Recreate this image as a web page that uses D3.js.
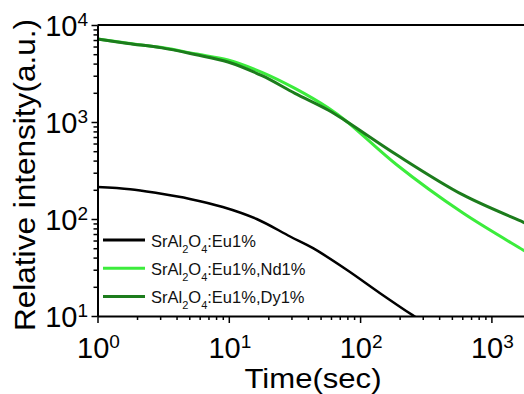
<!DOCTYPE html>
<html>
<head>
<meta charset="utf-8">
<script src="https://cdn.jsdelivr.net/npm/d3@7"></script>
<style>
  body { margin: 0; background: #fff; }
  svg { display: block; font-family: "Liberation Sans", Arial, sans-serif; }
</style>
</head>
<body>
<svg id="chart" width="524" height="394"></svg>
<script>
// Decay curves (time in sec, intensity in a.u.)
const euTime  = [1, 1.77, 2.84, 5.05, 9.0, 16.3, 29.3, 43.8, 79, 141, 251, 290];
const euValue = [214, 203, 185, 161, 133, 100, 66, 50, 30, 17.3, 10.2, 9.0];

const greenTime = [1, 1.71, 3.10, 5.53, 9.86, 17.9, 31.9, 57, 80, 191, 608, 1742, 2000];
const ndValue   = [7180, 6480, 5850, 5050, 4360, 3250, 2220, 1400, 1000, 360, 115, 47.9, 42.7];
const dyValue   = [7180, 6460, 5810, 4960, 4160, 3000, 1976, 1330, 1000, 457, 177, 93, 85.5];

const seriesNames  = ["Eu1%", "Eu1%,Nd1%", "Eu1%,Dy1%"];
const seriesColors = ["#000000", "#3cec3c", "#1c7c1c"];

const xTicks = [1, 10, 100, 1000];
const yTicks = [10, 100, 1000, 10000];

const series = [
  { name: seriesNames[0], color: seriesColors[0], width: 2.5, pts: euTime.map((t, i) => [t, euValue[i]]) },
  { name: seriesNames[1], color: seriesColors[1], width: 3, pts: greenTime.map((t, i) => [t, ndValue[i]]) },
  { name: seriesNames[2], color: seriesColors[2], width: 3, pts: greenTime.map((t, i) => [t, dyValue[i]]) }
];

const svg = d3.select('#chart');
const plotL = 97.5, plotR = 524, plotT = 25, plotB = 316;

const x = d3.scaleLog()
            .domain([1, Math.pow(10, (plotR - plotL) / 131.3)])
            .range([plotL, plotR]);
const y = d3.scaleLog()
            .domain([10, 10000])
            .range([plotB, plotT]);

// tick values 1..9 for each decade
function minors(lo, hi) {
  let out = [];
  for (let d = lo; d < hi; d *= 10)
    for (let k = 1; k < 10; k++) out.push(d * k);
  return out;
}

svg.append('defs').append('clipPath').attr('id', 'plotClip')
   .append('rect')
   .attr('x', plotL).attr('y', plotT)
   .attr('width', plotR - plotL).attr('height', plotB - plotT);

// curves
const line = d3.line()
               .x(d => x(d[0]))
               .y(d => y(d[1]))
               .curve(d3.curveCatmullRom.alpha(0.5));

const plot = svg.append('g').attr('clip-path', 'url(#plotClip)');
series.forEach(s => {
  plot.append('path')
      .datum(s.pts)
      .attr('d', line)
      .attr('fill', 'none')
      .attr('stroke', s.color)
      .attr('stroke-width', s.width)
      .attr('stroke-linejoin', 'round');
});

// axes
const xVals = minors(1, 10000).filter(v => v <= x.domain()[1]);
const xAxis = svg.append('g')
   .attr('transform', `translate(0,${plotB})`)
   .call(d3.axisBottom(x).tickValues(xVals).tickFormat('').tickSizeOuter(0));
xAxis.selectAll('.tick line')
     .attr('y2', d => xTicks.includes(d) ? 7 : 4)
     .attr('stroke-width', 1.5);

const yVals = minors(10, 10000).concat([10000]);
const yAxis = svg.append('g')
   .attr('transform', `translate(${plotL},0)`)
   .call(d3.axisLeft(y).tickValues(yVals).tickFormat('').tickSizeOuter(0));
yAxis.selectAll('.tick line')
     .attr('x2', d => yTicks.includes(d) ? -6 : -4)
     .attr('stroke-width', 1.5);

svg.selectAll('.domain').attr('stroke-width', 2);

svg.append('line')
   .attr('x1', plotL).attr('x2', plotR)
   .attr('y1', plotT).attr('y2', plotT)
   .attr('stroke', '#000').attr('stroke-width', 2);

// tick labels with superscript exponents
xTicks.forEach(v => {
  let t = svg.append('text')
             .attr('x', x(v) + 1)
             .attr('y', 358)
             .attr('text-anchor', 'middle')
             .attr('font-size', 29);
  t.append('tspan').text('10');
  t.append('tspan').attr('font-size', 19).attr('dy', -10).text(Math.round(Math.log10(v)));
});

yTicks.forEach(v => {
  let t = svg.append('text')
             .attr('x', 88)
             .attr('y', y(v) + 11)
             .attr('text-anchor', 'end')
             .attr('font-size', 29);
  t.append('tspan').text('10');
  t.append('tspan').attr('font-size', 19).attr('dy', -10).text(Math.round(Math.log10(v)));
});

// axis titles
svg.append('text')
   .attr('transform', 'translate(35,175) rotate(-90)')
   .attr('text-anchor', 'middle')
   .attr('font-size', 29)
   .attr('textLength', 312)
   .attr('lengthAdjust', 'spacingAndGlyphs')
   .text('Relative intensity(a.u.)');

svg.append('text')
   .attr('x', 313)
   .attr('y', 388)
   .attr('text-anchor', 'middle')
   .attr('font-size', 28)
   .attr('textLength', 137)
   .attr('lengthAdjust', 'spacingAndGlyphs')
   .text('Time(sec)');

// legend
const legend = svg.append('g');
series.forEach((s, i) => {
  let base = 247 + i * 28.2;
  legend.append('line')
        .attr('x1', 103).attr('x2', 145)
        .attr('y1', base - 7).attr('y2', base - 7)
        .attr('stroke', s.color)
        .attr('stroke-width', 3);
  let t = legend.append('text')
                .attr('x', 151)
                .attr('y', base)
                .attr('font-size', 16.5)
                .attr('fill', '#111');
  t.append('tspan').text('SrAl');
  t.append('tspan').attr('font-size', 11).attr('dy', 6).text('2');
  t.append('tspan').attr('dy', -6).text('O');
  t.append('tspan').attr('font-size', 11).attr('dy', 6).text('4');
  t.append('tspan').attr('dy', -6).text(':' + s.name);
});
</script>
</body>
</html>
